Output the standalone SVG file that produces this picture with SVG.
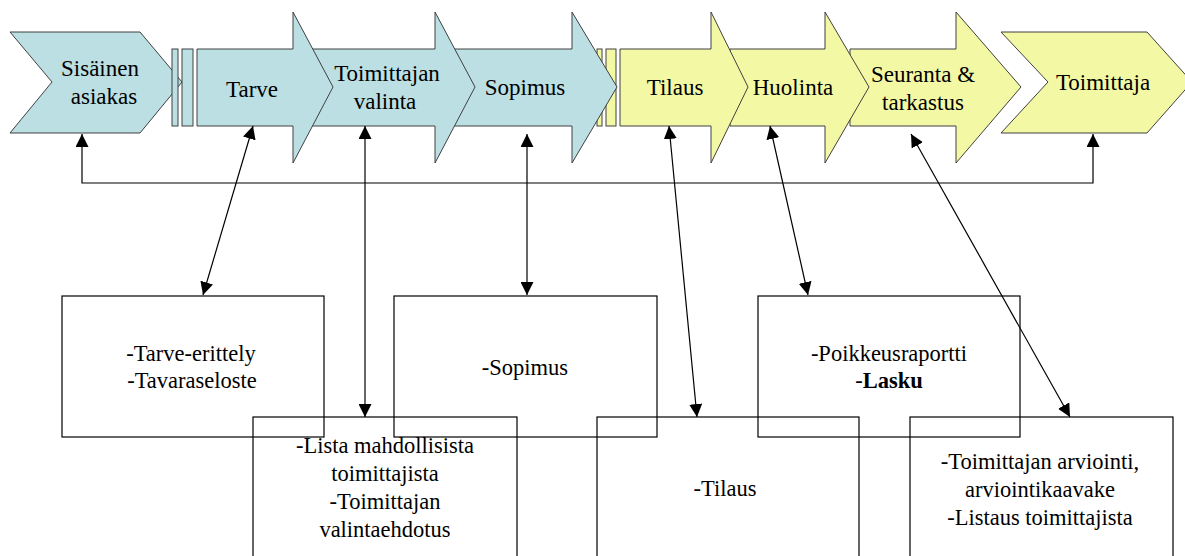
<svg xmlns="http://www.w3.org/2000/svg" width="1185" height="556" viewBox="0 0 1185 556">
<defs>
<marker id="ah" markerUnits="userSpaceOnUse" markerWidth="14" markerHeight="13" refX="13" refY="6.5" orient="auto-start-reverse">
<path d="M0,0 L13,6.5 L0,13 z" fill="#000"/>
</marker>
</defs>
<rect width="1185" height="556" fill="#fff"/>

<g id="toimittaja">
<polygon fill="#f3f8a4" stroke="#404040" points="1001,32 1147,32 1192,82 1147,133 1001,133 1048,82"/>
<text font-family="Liberation Serif" font-size="23" text-anchor="middle" x="1103" y="90">Toimittaja</text>
</g>
<g id="seuranta">
<polygon fill="#f3f8a4" stroke="#404040" points="850,49 956,49 956,12 1021,87 956,163 956,126 850,126"/>
<text font-family="Liberation Serif" font-size="23" text-anchor="middle" x="923" y="82">Seuranta &amp;</text>
<text font-family="Liberation Serif" font-size="23" text-anchor="middle" x="923" y="110">tarkastus</text>
</g>
<g id="huolinta">
<polygon fill="#f3f8a4" stroke="#404040" points="730,49 825,49 825,12 869,87 825,163 825,126 730,126"/>
<text font-family="Liberation Serif" font-size="23" text-anchor="middle" x="793" y="95">Huolinta</text>
</g>
<g id="tilaus">
<rect fill="#f3f8a4" stroke="#404040" x="597" y="49" width="5" height="77"/>
<rect fill="#f3f8a4" stroke="#404040" x="606" y="49" width="10" height="77"/>
<polygon fill="#f3f8a4" stroke="#404040" points="620,49 711,49 711,12 748,87 711,163 711,126 620,126"/>
<text font-family="Liberation Serif" font-size="23" text-anchor="middle" x="675" y="95">Tilaus</text>
</g>
<g id="sopimus">
<polygon fill="#bbdfe3" stroke="#404040" points="450,49 572,49 572,12 617,87 572,163 572,126 450,126"/>
<text font-family="Liberation Serif" font-size="23" text-anchor="middle" x="525" y="95">Sopimus</text>
</g>
<g id="valinta">
<polygon fill="#bbdfe3" stroke="#404040" points="310,49 435,49 435,12 475,87 435,163 435,126 310,126"/>
<text font-family="Liberation Serif" font-size="23" text-anchor="middle" x="387" y="81">Toimittajan</text>
<text font-family="Liberation Serif" font-size="23" text-anchor="middle" x="385" y="109">valinta</text>
</g>
<g id="tarve">
<polygon fill="#bbdfe3" stroke="#404040" points="197,49 293,49 293,12 333,87 293,163 293,126 197,126"/>
<text font-family="Liberation Serif" font-size="23" text-anchor="middle" x="252" y="97">Tarve</text>
</g>
<g id="sisainen">
<polygon fill="#bbdfe3" stroke="#404040" points="10,32 140,32 182,82 140,133 10,133 52,82"/>
<rect fill="#bbdfe3" stroke="#404040" x="172" y="49" width="6" height="77"/>
<rect fill="#bbdfe3" stroke="#404040" x="182" y="49" width="11" height="77"/>
<text font-family="Liberation Serif" font-size="23" text-anchor="middle" x="100" y="76">Sisäinen</text>
<text font-family="Liberation Serif" font-size="23" text-anchor="middle" x="104" y="104">asiakas</text>
</g>

<g id="connectors" fill="none" stroke="#000" stroke-width="1.2">
<path d="M82,134 V183 H1093 V134" marker-start="url(#ah)" marker-end="url(#ah)"/>
<path d="M253,126 L203,295" marker-start="url(#ah)" marker-end="url(#ah)"/>
<path d="M365,126 L365,417" marker-start="url(#ah)" marker-end="url(#ah)"/>
<path d="M527,134 L527,295" marker-start="url(#ah)" marker-end="url(#ah)"/>
<path d="M669,126 L697,417" marker-start="url(#ah)" marker-end="url(#ah)"/>
<path d="M770,126 L808,295" marker-start="url(#ah)" marker-end="url(#ah)"/>
<path d="M911,134 L1070,417" marker-start="url(#ah)" marker-end="url(#ah)"/>
</g>

<g id="box-tarve">
<rect fill="none" stroke="#000" stroke-width="1.2" x="62" y="296" width="262" height="141"/>
<text font-family="Liberation Serif" font-size="22.5" text-anchor="middle" x="191" y="361">-Tarve-erittely</text>
<text font-family="Liberation Serif" font-size="22.5" text-anchor="middle" x="192" y="388">-Tavaraseloste</text>
</g>
<g id="box-sopimus">
<rect fill="none" stroke="#000" stroke-width="1.2" x="394" y="296" width="263" height="141"/>
<text font-family="Liberation Serif" font-size="22.5" text-anchor="middle" x="525" y="375">-Sopimus</text>
</g>
<g id="box-poikkeus">
<rect fill="none" stroke="#000" stroke-width="1.2" x="758" y="296" width="262" height="141"/>
<text font-family="Liberation Serif" font-size="22.5" text-anchor="middle" x="889" y="361">-Poikkeusraportti</text>
<text font-family="Liberation Serif" font-size="22.5" text-anchor="middle" x="889" y="388">-<tspan font-weight="bold">Lasku</tspan></text>
</g>
<g id="box-lista">
<rect fill="none" stroke="#000" stroke-width="1.2" x="253" y="417" width="264" height="145"/>
<text font-family="Liberation Serif" font-size="22.5" text-anchor="middle" x="385" y="453">-Lista mahdollisista</text>
<text font-family="Liberation Serif" font-size="22.5" text-anchor="middle" x="385" y="481">toimittajista</text>
<text font-family="Liberation Serif" font-size="22.5" text-anchor="middle" x="385" y="509">-Toimittajan</text>
<text font-family="Liberation Serif" font-size="22.5" text-anchor="middle" x="385" y="537">valintaehdotus</text>
</g>
<g id="box-tilaus">
<rect fill="none" stroke="#000" stroke-width="1.2" x="597" y="417" width="262" height="145"/>
<text font-family="Liberation Serif" font-size="22.5" text-anchor="middle" x="725" y="496">-Tilaus</text>
</g>
<g id="box-arviointi">
<rect fill="none" stroke="#000" stroke-width="1.2" x="910" y="417" width="263" height="145"/>
<text font-family="Liberation Serif" font-size="22.5" text-anchor="middle" x="1040" y="469">-Toimittajan arviointi,</text>
<text font-family="Liberation Serif" font-size="22.5" text-anchor="middle" x="1040" y="497">arviointikaavake</text>
<text font-family="Liberation Serif" font-size="22.5" text-anchor="middle" x="1040" y="525">-Listaus toimittajista</text>
</g>
</svg>
